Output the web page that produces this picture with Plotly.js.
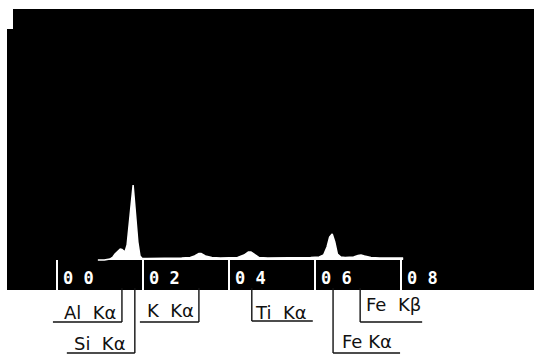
<!DOCTYPE html>
<html>
<head>
<meta charset="utf-8">
<script src="https://cdn.plot.ly/plotly-3.0.1.min.js"></script>
<style>html,body{margin:0;padding:0;background:#fff;}#chart{width:536px;height:356px;}</style>
</head>
<body>
<div id="chart"></div>
<script>
// EDS spectrum (energy in keV, counts in arbitrary units)
var energy = [0.95,1.10,1.23,1.30,1.35,1.42,1.47,1.51,1.55,1.58,1.63,1.65,1.70,1.77,1.83,1.88,1.93,1.98,
              2.10,2.30,2.50,2.70,2.90,3.10,3.20,3.30,3.35,3.45,3.60,3.80,4.00,4.20,4.35,4.45,4.51,4.60,4.70,
              4.90,5.10,5.30,5.50,5.70,5.90,6.10,6.20,6.28,6.34,6.40,6.46,6.52,6.60,6.70,6.80,6.90,7.00,7.07,
              7.15,7.30,7.50,7.70,7.90,8.05];
var counts = [0,0,10,30,60,90,110,105,90,80,150,250,450,750,420,180,40,15,
              15,15,15,20,20,25,40,65,65,40,25,20,20,25,50,80,80,55,25,
              20,20,20,20,20,25,30,50,130,230,260,180,60,30,25,25,30,45,50,
              40,25,20,20,20,20];

// axis ticks
var tickValues = [0, 2, 4, 6, 8];
var tickLabels = ['0 0', '0 2', '0 4', '0 6', '0 8'];

// peak identification labels
var lineNames  = ['Al\u00A0\u00A0K\u03B1', 'Si\u00A0\u00A0K\u03B1', 'K\u00A0\u00A0K\u03B1',
                  'Ti\u00A0\u00A0K\u03B1', 'Fe\u00A0K\u03B1', 'Fe\u00A0\u00A0K\u03B2'];
var lineEnergy = [1.51, 1.81, 3.30, 4.53, 6.42, 7.05];

// layout helpers (pixel geometry of the label leaders)
var side     = ['left', 'left', 'left', 'right', 'right', 'right'];
var bottomPx = [322, 353, 322, 321, 353, 322];
var textYPx  = [312, 343, 310, 312, 341, 304];
var underPx  = [69, 68, 59, 61, 67, 62];
var textDx   = [-4, -7, -3, 1, 7, 4];

var PLOT_TOP = 9, PLOT_BOT = 290, PLOT_H = PLOT_BOT - PLOT_TOP;
function py(p){ return (PLOT_BOT - p) / PLOT_H; }

var shapes = [];
var annotations = [];
for (var i = 0; i < lineNames.length; i++) {
  var e = lineEnergy[i];
  shapes.push({type:'line', xref:'x', yref:'paper', x0:e, x1:e, y0:py(288), y1:py(bottomPx[i]),
               line:{color:'#111', width:1.4}});
  var w = underPx[i];
  shapes.push({type:'line', xref:'x', yref:'paper', xsizemode:'pixel', xanchor:e,
               x0: side[i]==='left' ? -w : 0, x1: side[i]==='left' ? 0 : w,
               y0:py(bottomPx[i]), y1:py(bottomPx[i]), line:{color:'#111', width:1.4}});
  annotations.push({xref:'x', yref:'paper', x:e, y:py(textYPx[i]), xshift:textDx[i],
                    xanchor: side[i]==='left' ? 'right' : 'left', yanchor:'middle',
                    text:lineNames[i], showarrow:false,
                    font:{family:'DejaVu Sans, sans-serif', size:18, color:'#111'}});
}
// tick labels drawn inside the dark panel, just right of each tick
for (var j = 0; j < tickValues.length; j++) {
  annotations.push({xref:'x', yref:'paper', x:tickValues[j], y:py(278), xshift:4,
                    xanchor:'left', yanchor:'middle', text:tickLabels[j], showarrow:false,
                    font:{family:'DejaVu Sans Mono, monospace', size:17, color:'#fff', weight:'bold'}});
}
// small notch at the top-left corner of the photo
shapes.push({type:'rect', xref:'paper', yref:'paper', x0:-0.001, x1:6/527, y0:py(29), y1:1.001,
             fillcolor:'#fff', line:{width:0}});

var trace = {
  x: energy, y: counts, type:'scatter', mode:'lines',
  line:{color:'#fff', width:1.5, shape:'linear'},
  fill:'tozeroy', fillcolor:'#fff', hoverinfo:'skip'
};

var layout = {
  width:536, height:356,
  margin:{l:7, r:2, t:9, b:66},
  paper_bgcolor:'#fff', plot_bgcolor:'#000',
  showlegend:false,
  xaxis:{range:[-1.163, 11.093], showgrid:false, zeroline:false, showline:false,
         tickmode:'array', tickvals:tickValues, showticklabels:false,
         ticks:'inside', ticklen:30, tickwidth:2, tickcolor:'#fff'},
  yaxis:{range:[-300, 2510], showgrid:false, zeroline:false, showline:false,
         showticklabels:false, ticks:''},
  shapes:shapes, annotations:annotations
};

Plotly.newPlot('chart', [trace], layout, {displayModeBar:false, staticPlot:true});
</script>
</body>
</html>
